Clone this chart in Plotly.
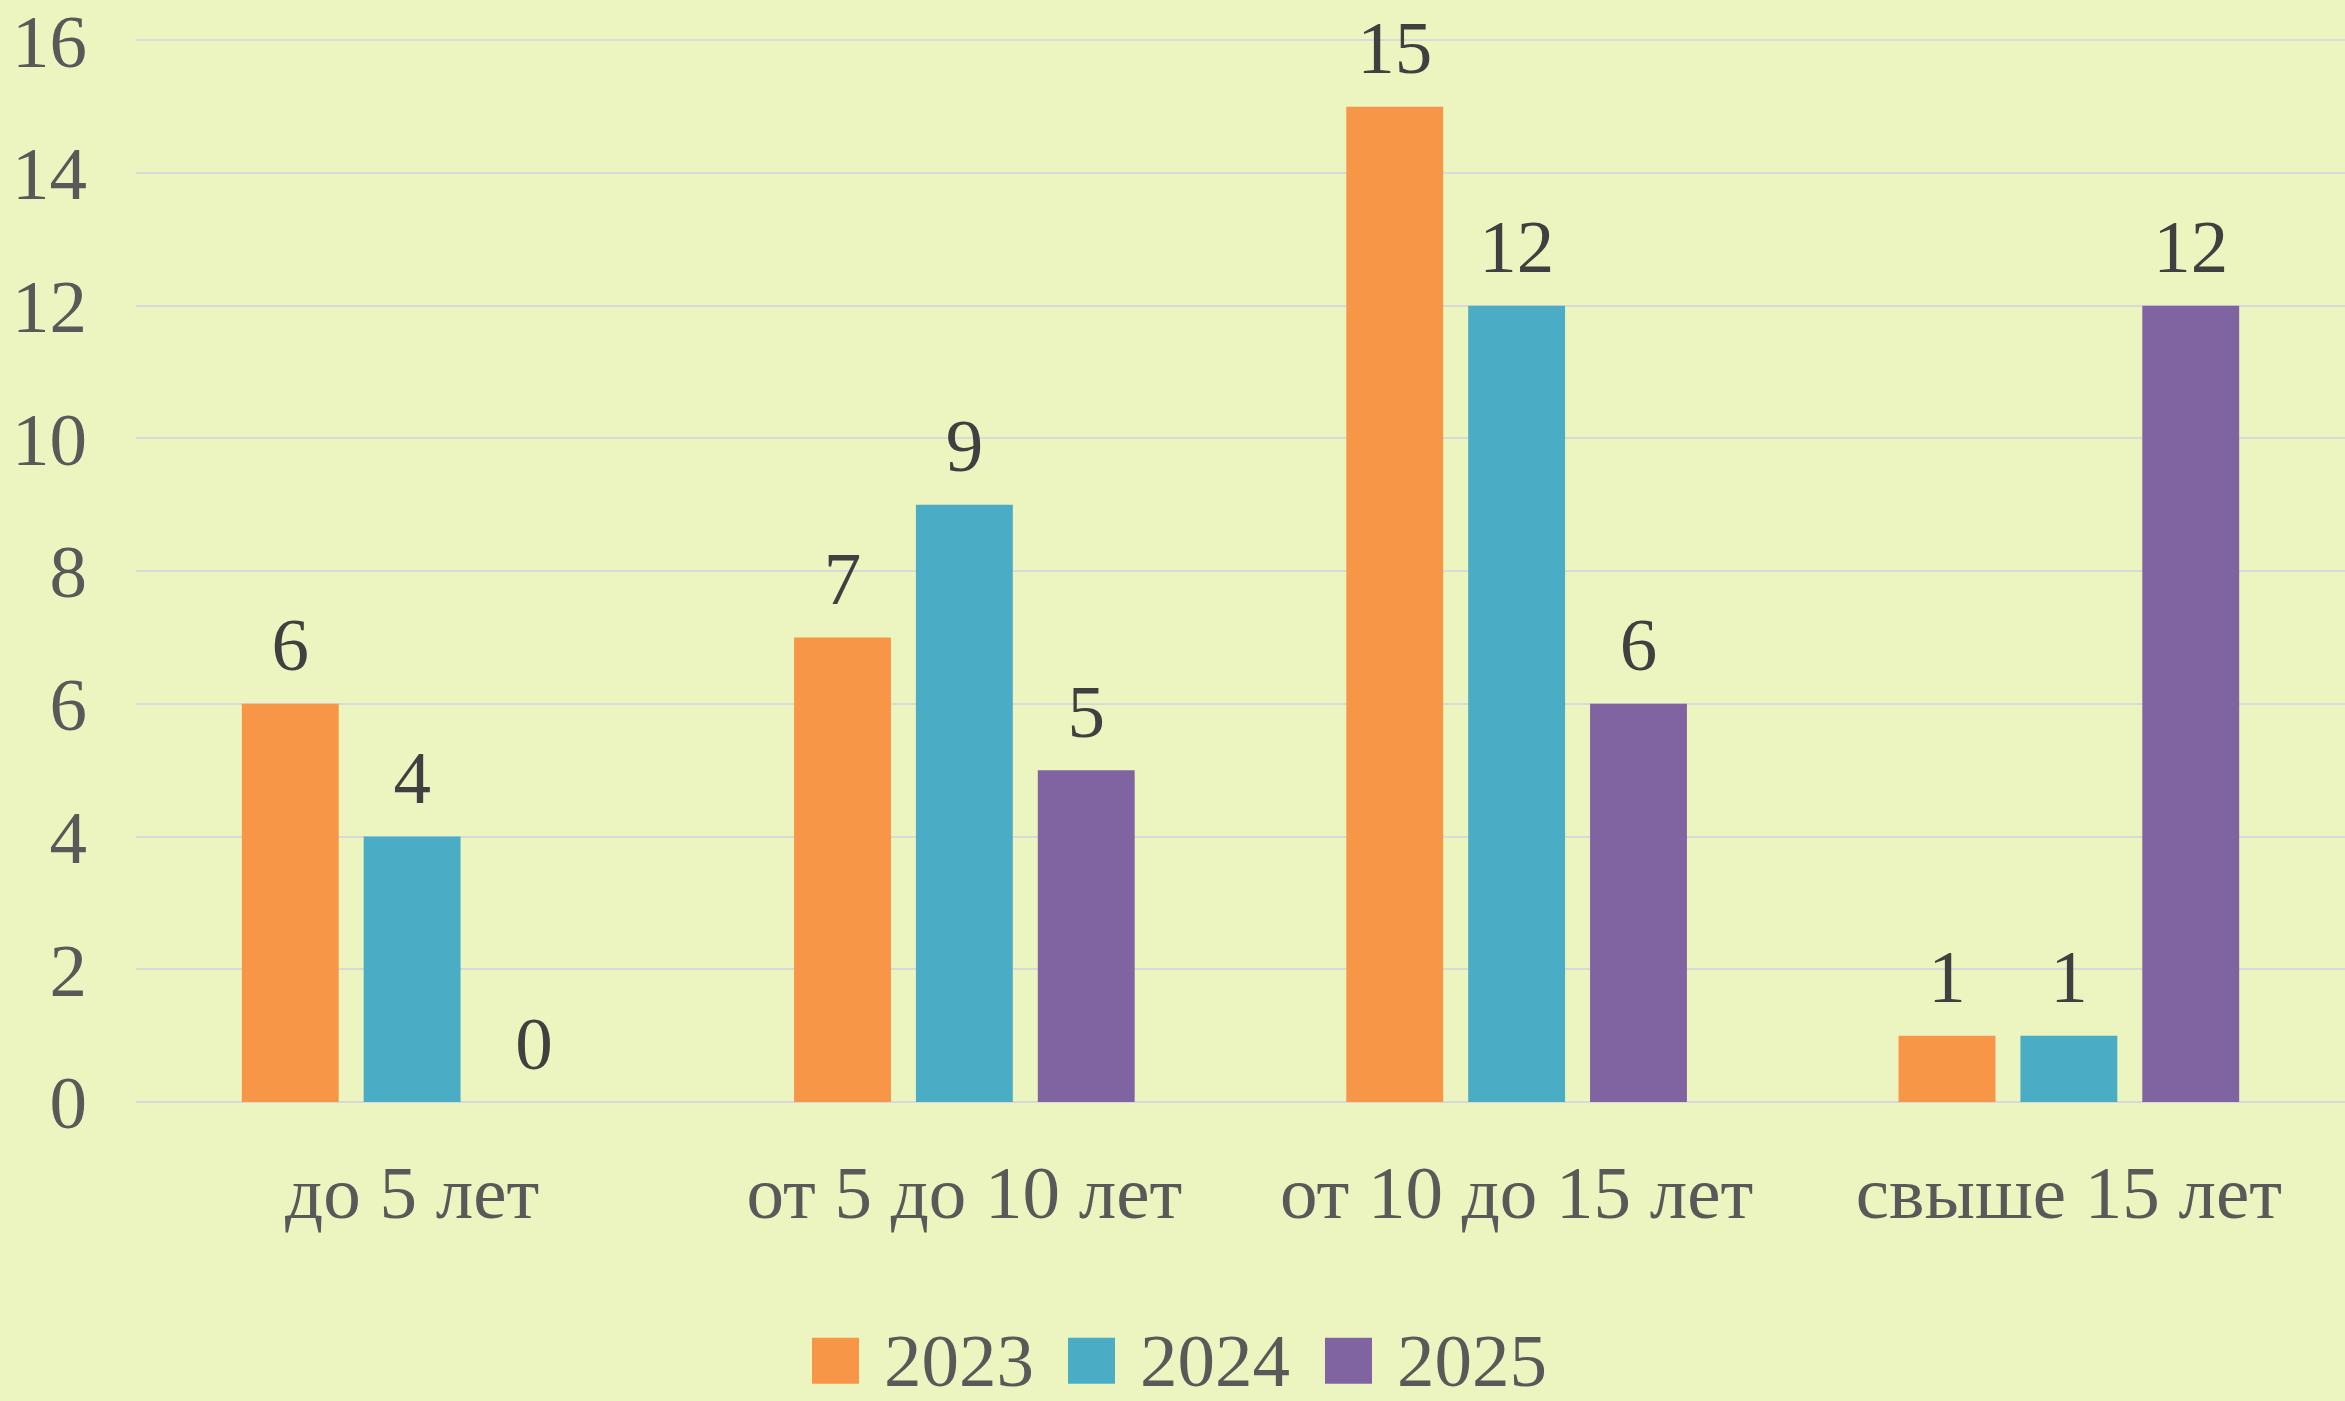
import plotly.graph_objects as go

categories = ["до 5 лет", "от 5 до 10 лет", "от 10 до 15 лет", "свыше 15 лет"]
series_names = ["2023", "2024", "2025"]
values_2023 = [6, 7, 15, 1]
values_2024 = [4, 9, 12, 1]
values_2025 = [0, 5, 6, 12]
colors = ["#F79646", "#4BACC6", "#8064A2"]
y_ticks = [0, 2, 4, 6, 8, 10, 12, 14, 16]

FONT = "Liberation Serif, Times New Roman, serif"
BG = "#ECF5C0"
all_values = [values_2023, values_2024, values_2025]

fig = go.Figure()
for name, vals, col in zip(series_names, all_values, colors):
    fig.add_trace(go.Bar(
        x=categories, y=vals, name=name,
        marker=dict(color=col, line=dict(width=0)),
        showlegend=False, hoverinfo="x+y+name",
    ))
# value labels (grouped scatter text so they sit above each bar)
for name, vals in zip(series_names, all_values):
    fig.add_trace(go.Scatter(
        x=categories, y=vals, name=name, mode="text+markers",
        marker=dict(size=22, color="rgba(0,0,0,0)"),
        text=[str(v) for v in vals], textposition="top center",
        textfont=dict(family=FONT, size=75, color="#404040"),
        cliponaxis=False, showlegend=False, hoverinfo="skip",
    ))

# legend drawn with large squares as in the original
leg_y = -0.2435
item_x = [812, 1068, 1325]
W = 2345
L, R = 136, 0
pw = W - L - R
for name, col, px in zip(series_names, colors, item_x):
    fig.add_shape(type="rect", xref="paper", yref="paper",
                  x0=(px - L) / pw, x1=(px + 47 - L) / pw,
                  y0=leg_y - 23 / 1062, y1=leg_y + 23 / 1062,
                  fillcolor=col, line=dict(width=0))
    fig.add_annotation(text=name, xref="paper", yref="paper",
                       x=(px + 70 - L) / pw, y=leg_y, xanchor="left", yanchor="middle",
                       showarrow=False, font=dict(family=FONT, size=75, color="#595959"))

fig.update_layout(
    width=2345, height=1401,
    margin=dict(l=136, r=0, t=39, b=299),
    paper_bgcolor=BG, plot_bgcolor=BG,
    barmode="group", bargap=0.338, bargroupgap=0.205,
    scattermode="group", scattergap=0.338,
    font=dict(family=FONT, size=75, color="#595959"),
    showlegend=False,
)
fig.update_xaxes(showgrid=False, showline=False, ticks="", ticklabelstandoff=40,
                 tickfont=dict(family=FONT, size=75, color="#595959"))
fig.update_yaxes(range=[0, 16.02], tickvals=y_ticks, showgrid=True, gridcolor="#D9D9D9",
                 gridwidth=2, zeroline=True, zerolinecolor="#D9D9D9", zerolinewidth=2,
                 showline=False, ticks="", ticklabelstandoff=48, ticklabeloverflow="allow",
                 tickfont=dict(family=FONT, size=75, color="#595959"))

fig.write_html("out.html", config={"displayModeBar": False},
               post_script="document.body.style.margin='0';document.body.style.background='" + BG + "';")
